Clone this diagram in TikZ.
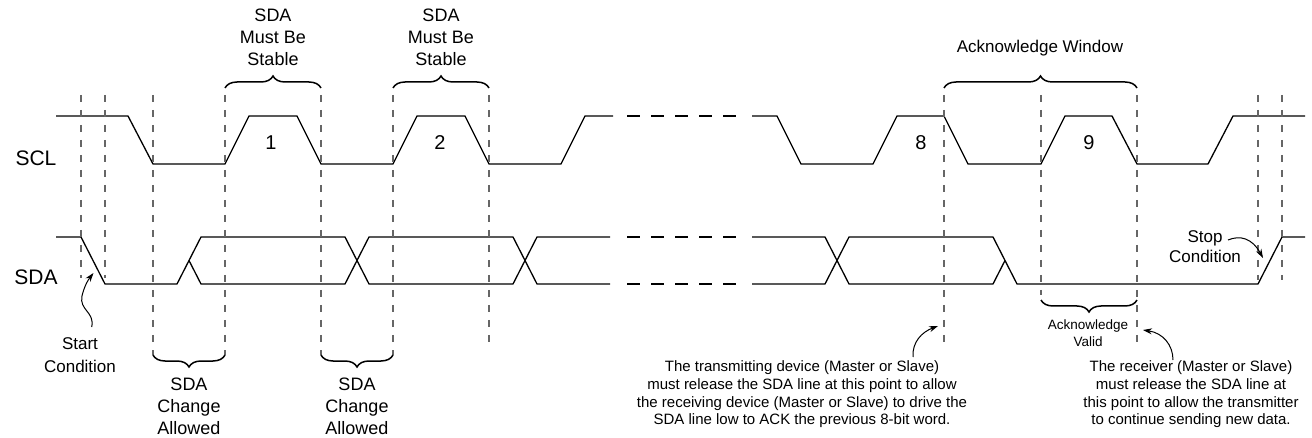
\documentclass[tikz,border=0pt]{standalone}
\usepackage{fontspec}
\setmainfont{Liberation Sans}
\usetikzlibrary{decorations.pathreplacing,arrows.meta}
\begin{document}
\begin{tikzpicture}[x=1pt,y=-1pt,
  wave/.style={line width=1.3pt, line join=miter},
  gapdash/.style={line width=1.3pt, dash pattern=on 13pt off 11pt},
  guide/.style={draw=black!60, line width=1.1pt, dash pattern=on 7pt off 8pt},
  brc/.style={decorate, decoration={brace, amplitude=12pt}, line width=1.5pt},
  brcm/.style={decorate, decoration={brace, mirror, amplitude=12pt}, line width=1.5pt},
  lbl/.style={inner sep=0pt, align=center, font=\fontsize{18}{22}\selectfont},
  num/.style={inner sep=0pt, font=\fontsize{20}{22}\selectfont},
  sig/.style={inner sep=0pt, font=\fontsize{21}{22}\selectfont},
  note/.style={inner sep=0pt, align=center, font=\fontsize{15}{17.7}\selectfont},
  small/.style={inner sep=0pt, align=center, font=\fontsize{13.5}{17}\selectfont},
  pointer/.style={line width=1pt, -{Stealth[length=9pt,width=6pt]}}
]
\useasboundingbox (0,0) rectangle (1312,438);

% signal names
\node[sig] (scl) at (36,158.5) {SCL};
\node[sig] (sda) at (36,277.5) {SDA};

% SCL waveform
\draw[wave] (56,116) -- (128,116) -- (153,164) -- (225,164) -- (249,116) -- (297,116)
  -- (321,164) -- (393,164) -- (417,116) -- (465,116) -- (489,164) -- (561,164)
  -- (585,116) -- (613,116);
\draw[gapdash] (627,116) -- (740,116);
\draw[wave] (752,116) -- (777,116) -- (801,164) -- (873,164) -- (897,116) -- (944,116)
  -- (968,164) -- (1041,164) -- (1065,116) -- (1112,116) -- (1137,164) -- (1208,164)
  -- (1233,116) -- (1305,116);

% SDA waveform
\draw[wave] (56,237) -- (81,237) -- (105,284) -- (177,284) -- (201,237) -- (345,237)
  -- (369,284) -- (513,284) -- (537,237) -- (610,237);
\draw[wave] (189,260.5) -- (201,284) -- (345,284) -- (369,237) -- (513,237)
  -- (537,284) -- (610,284);
\draw[gapdash] (627,237) -- (740,237);
\draw[gapdash] (627,284) -- (740,284);
\draw[wave] (752,237) -- (825,237) -- (849,284) -- (993,284) -- (1005,260.5);
\draw[wave] (752,284) -- (825,284) -- (849,237) -- (993,237) -- (1017,284)
  -- (1258,284) -- (1282,237) -- (1305,237);

% bit numbers
\node[num] (b1) at (271,143) {1};
\node[num] (b2) at (440,143) {2};
\node[num] (b8) at (921,143) {8};
\node[num] (b9) at (1089,143) {9};

% vertical guides
\draw[guide] (81,95) -- (81,278);
\draw[guide] (105,95) -- (105,278);
\draw[guide] (153,95) -- (153,355);
\draw[guide] (225,95) -- (225,355);
\draw[guide] (321,95) -- (321,355);
\draw[guide] (393,95) -- (393,355);
\draw[guide] (489,95) -- (489,345);
\draw[guide] (944,95) -- (944,345);
\draw[guide] (1041,95) -- (1041,295);
\draw[guide] (1137,95) -- (1137,345);
\draw[guide] (1258,95) -- (1258,280);
\draw[guide] (1282,95) -- (1282,280);

% top braces
\draw[brc] (225,88) -- (321,88);
\draw[brc] (393,88) -- (489,88);
\draw[brc] (944,88) -- (1137,88);
\node[lbl] (stab1) at (273,37) {SDA\\Must Be\\Stable};
\node[lbl] (stab2) at (441,37) {SDA\\Must Be\\Stable};
\node[inner sep=0pt, font=\fontsize{17}{20}\selectfont] (ackw) at (1040,48) {Acknowledge Window};

% bottom braces
\draw[brcm] (153,355) -- (225,355);
\draw[brcm] (321,355) -- (393,355);
\draw[brcm] (1041,300) -- (1137,300);
\node[lbl] (chg1) at (189,406) {SDA\\Change\\Allowed};
\node[lbl] (chg2) at (357,406) {SDA\\Change\\Allowed};
\node[small] (ackv) at (1088,333.5) {Acknowledge\\Valid};

% start / stop
\node[inner sep=0pt, align=center, font=\fontsize{17}{23}\selectfont] (start) at (80,355) {Start\\Condition};
\node[inner sep=0pt, align=center, font=\fontsize{17}{20}\selectfont] (stop) at (1205,247) {Stop\\Condition};
\coordinate (startTail) at (91.7,327);
\coordinate (startTip) at (93.5,273);
\draw[pointer] (startTail) .. controls (95,312) and (79,310) .. (82,296)
  .. controls (84,287) and (88,280) .. (startTip);
\coordinate (stopTail) at (1228,240);
\coordinate (stopTip) at (1263,258);
\draw[pointer] (stopTail) .. controls (1240,235) and (1252,238) .. (stopTip);

% notes
\node[note] (txnote) at (802,394.5) {The transmitting device (Master or Slave)\\must release the SDA line at this point to allow\\the receiving device (Master or Slave) to drive the\\SDA line low to ACK the previous 8-bit word.};
\node[note] (rxnote) at (1191,394.5) {The receiver (Master or Slave)\\must release the SDA line at\\this point to allow the transmitter\\to continue sending new data.};
\coordinate (txTail) at (913,357);
\coordinate (txTip) at (938,326);
\draw[pointer] (txTail) .. controls (912,342) and (922,332) .. (txTip);
\coordinate (rxTail) at (1173,360);
\coordinate (rxTip) at (1143,330);
\draw[pointer] (rxTail) .. controls (1173,345) and (1163,333) .. (rxTip);
\end{tikzpicture}
\end{document}
